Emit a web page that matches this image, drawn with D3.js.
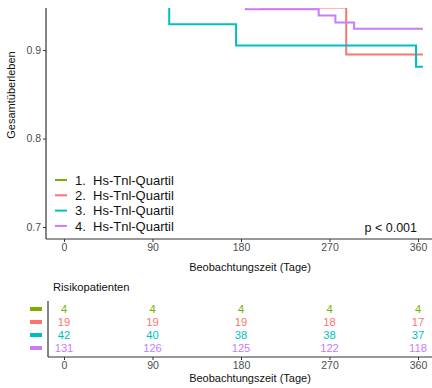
<!DOCTYPE html>
<html>
<head>
<meta charset="utf-8">
<script src="https://cdn.jsdelivr.net/npm/d3@7"></script>
<style>
  html, body { margin: 0; padding: 0; background: #fff; }
  svg { display: block; font-family: "Liberation Sans", Arial, sans-serif; }
</style>
</head>
<body>
<svg id="chart" width="432" height="388"></svg>
<script>
// Kaplan-Meier curves per hs-TnI quartile, with the numbers at risk below.
const groups = ["1.", "2.", "3.", "4."];
const groupLabel = "Hs-Tnl-Quartil";
const colors = ["#7CAE00", "#F8766D", "#00BFC4", "#C77CFF"];

// Step points: [day, survival from that day on]
const curveQ1 = [[0, 1.0]];
const curveQ2 = [[0, 1.0], [200, 0.948], [287, 0.895]];
const curveQ3 = [[0, 1.0], [30, 0.976], [60, 0.952], [107, 0.929], [175, 0.905], [358, 0.881]];
const curveQ4 = [[0, 1.0], [185, 0.946], [259, 0.939], [276, 0.931], [295, 0.924]];
const curves = [curveQ1, curveQ2, curveQ3, curveQ4];
const endDay = 365;

const timeTicks = [0, 90, 180, 270, 360];
const survTicks = [0.7, 0.8, 0.9];
const atRisk = [
  [4, 4, 4, 4, 4],
  [19, 19, 19, 18, 17],
  [42, 40, 38, 38, 37],
  [131, 126, 125, 122, 118]
];
const pText = "p < 0.001";

const svg = d3.select("#chart");
const axisGrey = "#4D4D4D";

const x = d3.scaleLinear().domain([-18, 378]).range([46.3, 435.7]);
const y = d3.scaleLinear().domain([0.6865, 0.9475]).range([239, 8]);

// clip region for the survival panel
svg.append("defs").append("clipPath").attr("id", "panel")
  .append("rect").attr("x", 46).attr("y", 8).attr("width", 390).attr("height", 231);

const stepLine = d3.line().x(d => x(d[0])).y(d => y(d[1])).curve(d3.curveStepAfter);

const curveG = svg.append("g").attr("clip-path", "url(#panel)");
curves.forEach((c, i) => {
  const pts = c.concat([[endDay, c[c.length - 1][1]]]);
  curveG.append("path")
    .attr("d", stepLine(pts))
    .attr("fill", "none")
    .attr("stroke", colors[i])
    .attr("stroke-width", 2);
});

// axes of the survival panel
const yAxis = svg.append("g").attr("transform", "translate(46,0)")
  .call(d3.axisLeft(y).tickValues(survTicks).tickFormat(d3.format(".1f")).tickSize(3).tickPadding(2));
yAxis.select(".domain").attr("d", "M0,8V239").attr("stroke", "#333").attr("stroke-width", 1.2);
yAxis.selectAll(".tick line").attr("stroke", "#333");
yAxis.selectAll(".tick text").attr("fill", axisGrey).attr("font-size", 10.5);

const xAxis = svg.append("g").attr("transform", "translate(0,239)")
  .call(d3.axisBottom(x).tickValues(timeTicks).tickSize(3).tickPadding(2));
xAxis.select(".domain").attr("d", "M46,0H436").attr("stroke", "#333").attr("stroke-width", 1.2);
xAxis.selectAll(".tick line").attr("stroke", "#333");
xAxis.selectAll(".tick text").attr("fill", axisGrey).attr("font-size", 10.5);

svg.append("text")
  .attr("transform", "translate(15,95) rotate(-90)")
  .attr("text-anchor", "middle")
  .attr("font-size", 11)
  .attr("fill", "#111")
  .text("Gesamtüberleben");

svg.append("text")
  .attr("x", 250).attr("y", 271)
  .attr("text-anchor", "middle")
  .attr("font-size", 11)
  .attr("fill", "#111")
  .text("Beobachtungszeit (Tage)");

// legend
const legend = svg.append("g");
groups.forEach((g, i) => {
  const yy = 180 + i * 15.3;
  legend.append("line")
    .attr("x1", 55).attr("x2", 67).attr("y1", yy).attr("y2", yy)
    .attr("stroke", colors[i]).attr("stroke-width", 2);
  legend.append("text")
    .attr("x", 75).attr("y", yy + 4.6)
    .attr("font-size", 13).attr("fill", "#111")
    .text(g);
  legend.append("text")
    .attr("x", 93).attr("y", yy + 4.6)
    .attr("font-size", 13).attr("fill", "#111")
    .text(groupLabel);
});

svg.append("text")
  .attr("x", 417).attr("y", 232)
  .attr("text-anchor", "end")
  .attr("font-size", 12.5)
  .attr("fill", "#111")
  .text(pText);

// risk table
svg.append("text")
  .attr("x", 53).attr("y", 291)
  .attr("font-size", 11.2).attr("fill", "#111")
  .text("Risikopatienten");

const rowY = d3.scalePoint().domain(d3.range(groups.length)).range([309, 348]);

const rt = svg.append("g");
atRisk.forEach((row, i) => {
  rt.selectAll(null).data(row).join("text")
    .attr("x", (d, j) => x(timeTicks[j]))
    .attr("y", rowY(i) + 4)
    .attr("text-anchor", "middle")
    .attr("font-size", 11.2)
    .attr("fill", colors[i])
    .text(d => d);
  rt.append("line")
    .attr("x1", 30).attr("x2", 42).attr("y1", rowY(i)).attr("y2", rowY(i))
    .attr("stroke", colors[i]).attr("stroke-width", 4);
});

rt.append("line").attr("x1", 48).attr("x2", 48).attr("y1", 301).attr("y2", 357)
  .attr("stroke", "#333").attr("stroke-width", 1.2);

const xAxis2 = svg.append("g").attr("transform", "translate(0,357)")
  .call(d3.axisBottom(x).tickValues(timeTicks).tickSize(3).tickPadding(2));
xAxis2.select(".domain").attr("d", "M48,0H436").attr("stroke", "#333").attr("stroke-width", 1.2);
xAxis2.selectAll(".tick line").attr("stroke", "#333");
xAxis2.selectAll(".tick text").attr("fill", axisGrey).attr("font-size", 10.5);

svg.append("text")
  .attr("x", 250).attr("y", 382)
  .attr("text-anchor", "middle")
  .attr("font-size", 11)
  .attr("fill", "#111")
  .text("Beobachtungszeit (Tage)");
</script>
</body>
</html>
